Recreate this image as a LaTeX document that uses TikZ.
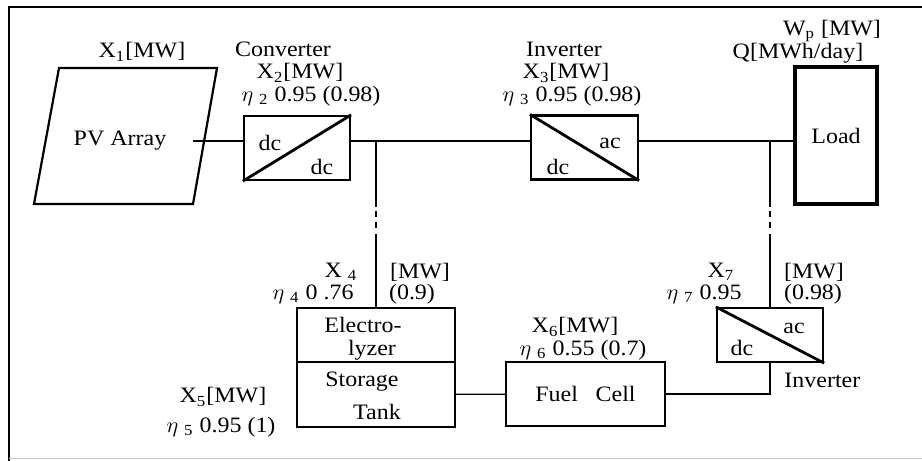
\documentclass[tikz,border=0pt]{standalone}
\usepackage{fontspec}
\setmainfont{Liberation Serif}[FakeStretch=1.09]
\usetikzlibrary{positioning}

\begin{document}
\begin{tikzpicture}[
		x=0.5pt, y=-0.5pt,
		every node/.style={font=\fontsize{11}{11.5}\selectfont, inner sep=0pt},
		box/.style={draw, rectangle, line width=1.1pt, inner sep=0pt, align=center},
		cvt/.style={box, minimum width=53pt, minimum height=32pt},
		diag/.style={line width=1.4pt},
		wire/.style={line width=0.6pt},
		brk/.style={wire, dash pattern=on 33pt off 2pt on 3pt off 2.5pt on 3pt off 3pt on 60pt}
		]
		\useasboundingbox (0,0) rectangle (922,461);
		
		% --- Frame ---
		\draw[line width=0.8pt] (922,7) -- (9,7) -- (9,461);
		\draw[line width=0.5pt, gray!45] (9,458) -- (922,458);
		
		% --- Top row ---
		\draw[line width=1.1pt] (34,204) -- (59,68) -- (217,68) -- (193,204) -- cycle;
		\node (pv) at (120,141) {PV Array};
		\coordinate (pvout) at (193,141);
		\node[cvt] (dcdc) at (297,148) {};
		\node[cvt, minimum width=53.5pt] (inv) at (584.5,147.5) {};
		\node[box, line width=2pt, minimum width=41pt, minimum height=68.5pt] (load) at (836,135.5) {Load};
		\draw[diag] (dcdc.south west) -- (dcdc.north east);
		\draw[diag] (inv.north west) -- (inv.south east);
		\node (dcin) at (270,143) {dc};
		\node (dcout) at (322,167) {dc};
		\node (invac) at (610,143) {ac};
		\node (invdc) at (558,167) {dc};
		
		% --- Bottom row ---
		\node[box, minimum width=79pt, minimum height=27pt] (elec) at (376,335) {};
		\node[box, minimum width=79pt, minimum height=32.5pt] (tank) at (376,394.5) {};
		\node[box, minimum width=79.5pt, minimum height=32pt] (fc) at (585.5,394) {Fuel\hspace{0.8em}Cell};
		\node[cvt, minimum height=27pt] (inv2) at (770,335) {};
		\draw[diag] (inv2.north west) -- (inv2.south east);
		\node (elec1) at (363,325) {Electro-};
		\node (elec2) at (372,350) {lyzer};
		\node (tank1) at (362,382) {Storage};
		\node (tank2) at (377,412) {Tank};
		\node (inv2ac) at (794,328) {ac};
		\node (inv2dc) at (742,348) {dc};
		
		% --- Bus and branches ---
		\coordinate (j1) at (elec.north |- pvout);
		\coordinate (j2) at (inv2.north |- pvout);
		\draw[wire] (pvout) -- (pvout -| dcdc.west);
		\draw[wire] (pvout -| dcdc.east) -- (pvout -| inv.west);
		\draw[wire] (pvout -| inv.east) -- (pvout -| load.west);
		\draw[brk] (j1) -- (elec.north);
		\draw[brk] (j2) -- (inv2.north);
		\draw[wire] (tank) -- (fc);
		\draw[wire] (fc.east) -| (inv2.south);
		
		% --- Ratings ---
		\node (x1) at (142,52) {X\textsubscript{1}[MW]};
		\node (convname) at (283,49) {Converter};
		\node (x2) at (300,73) {X\textsubscript{2}[MW]};
		\node (eta2) at (311,96) {$\eta$\ \textsubscript{2} 0.95\ (0.98)};
		\node (invname) at (564,49) {Inverter};
		\node (x3) at (566,73) {X\textsubscript{3}[MW]};
		\node (eta3) at (572,96) {$\eta$\ \textsubscript{3} 0.95\ (0.98)};
		\node (wp) at (832,31) {W\textsubscript{p} [MW]};
		\node (q) at (798,53) {Q[MWh/day]};
		\node (x4) at (341,272) {X \textsubscript{4}};
		\node (eta4) at (313,294) {$\eta$\ \textsubscript{4} 0 .76};
		\node (mw4) at (420,272) {[MW]};
		\node (eta4b) at (412,294) {(0.9)};
		\node (x5) at (223,397) {X\textsubscript{5}[MW]};
		\node (eta5) at (221,427) {$\eta$\ \textsubscript{5} 0.95 (1)};
		\node (x6) at (575,327) {X\textsubscript{6}[MW]};
		\node (eta6) at (583,350) {$\eta$\ \textsubscript{6} 0.55 (0.7)};
		\node (x7) at (721,272) {X\textsubscript{7}};
		\node (eta7) at (704,294) {$\eta$\ \textsubscript{7} 0.95};
		\node (mw7) at (814,272) {[MW]};
		\node (eta7b) at (813,294) {(0.98)};
		\node[anchor=west] (inv2name) at (784,380) {Inverter};
	\end{tikzpicture}
\end{document}
